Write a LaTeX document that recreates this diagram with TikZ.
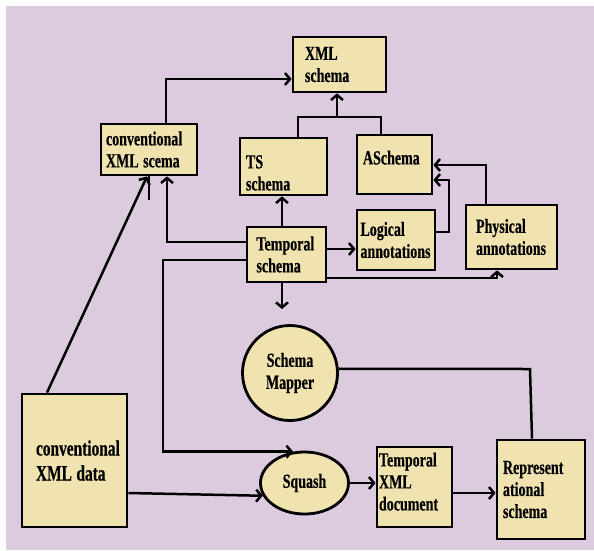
\documentclass[tikz,border=0pt]{standalone}
\usepackage{fontspec}
\setmainfont{Liberation Serif}[FakeStretch=0.70, BoldFeatures={FakeBold=0.4}]
\usetikzlibrary{arrows.meta,shapes.geometric}
\definecolor{bgc}{RGB}{220,202,222}
\definecolor{boxfill}{RGB}{240,227,176}
\newcommand\lbl{\fontsize{20}{22}\selectfont\bfseries\hyphenpenalty=10000\lefthyphenmin=64 }
\newcommand\lblbig{\fontsize{22}{25}\selectfont\bfseries\hyphenpenalty=10000\lefthyphenmin=64 }
\tikzset{
  bx/.style={draw, fill=boxfill, line width=2.8pt, align=left, inner ysep=0pt, font=\lbl,
    execute at begin node={\spaceskip=4.5pt plus 1pt minus 1pt\xspaceskip=4.5pt}},
  rnd/.style={draw, fill=boxfill, line width=2.8pt, align=center, inner sep=0pt, font=\lbl},
  ln/.style={line width=2.5pt, >={Straight Barb[length=5pt,width=12pt]}},
}
\begin{document}
\begin{tikzpicture}[x=1pt,y=-1pt]
\useasboundingbox (0,0) rectangle (594,550);
\fill[white] (0,0) rectangle (594,550);
\fill[bgc] (6,6) rectangle (594,550);

% boxes
\node[bx, text width=69pt, inner xsep=12pt, minimum height=55pt] (xml) at (339.5,64.5) {XML\\schema};
\node[bx, text width=86pt, inner xsep=5pt, minimum height=51pt] (cxs) at (149,149.5) {conventional\\XML scema};
\node[bx, text width=75pt, inner xsep=6pt, minimum height=57pt] (tsch) at (283.5,166.5) {\rule{0pt}{26pt}TS\\schema};
\node[bx, text width=63pt, inner xsep=6pt, minimum height=59pt] (as) at (394.5,164.5) {ASchema\rule[-14pt]{0pt}{14pt}};
\node[bx, text width=71pt, inner xsep=3.5pt, minimum height=60pt] (lga) at (396,240) {Logical\\annotations};
\node[bx, text width=71pt, inner xsep=10pt, minimum height=64pt] (phys) at (511.5,237) {Physical\\annotations};
\node[bx, text width=60pt, inner xsep=9.5pt, minimum height=55pt] (ts) at (286.5,254.5) {Temporal\\schema};
\node[bx, font=\lblbig, text width=77pt, inner xsep=14pt, minimum height=133pt] (cxd) at (74.5,460.5) {\mbox{conventional}\\XML data};
\node[bx, text width=71pt, inner xsep=2pt, minimum height=80pt] (tdoc) at (414.5,487) {Temporal\\XML\\document\rule[-11pt]{0pt}{11pt}};
\node[bx, text width=76pt, inner xsep=6pt, minimum height=99pt] (rep) at (541,489.5) {Represent\\ational\\schema};
\node[rnd, circle, minimum size=95pt] (sm) at (290,373) {Schema\\Mapper};
\node[rnd, ellipse, minimum width=88pt, minimum height=62pt] (squash) at (304.5,483) {Squash};

\coordinate (tsend) at (282,309);

% connectors
\draw[ln,->] (cxs.north -| 166,0) |- (xml.west |- 0,79);
\draw[ln] (tsch.north -| 298,0) -- (298,117) -- (381,117) -- (as.north -| 381,0);
\draw[ln,->] (337,117) -- (xml.south -| 337,0);
\draw[ln,->] (ts.north -| 282,0) -- (tsch.south -| 282,0);
\draw[ln,->] (ts.west |- 0,242) -| (cxs.south -| 167,0);
\draw[ln,->] (ts.west |- 0,260) -- (163,260) |- (squash.110);
\draw[ln,->] (ts.east |- 0,249) -- (lga.west |- 0,249);
\draw[ln,->] (ts.east |- 0,278) -| (phys.south -| 497,0);
\draw[ln,->] (ts.south -| 282,0) -- (tsend);
\draw[ln,->] (lga.east |- 0,232) -- (449,232) |- (as.east |- 0,180);
\draw[ln,->] (phys.north -| 486,0) |- (as.east |- 0,165);
\draw[ln,->] (cxd.north -| 47,0) -- (cxs.south -| 147,0);
\draw[ln] (cxs.south -| 149,0) -- (149,200);
\draw[ln,->] (cxd.east |- 0,493) -- (squash.197);
\draw[ln,->] (squash.east) -- (tdoc.west |- squash.east);
\draw[ln,->] (tdoc.east |- 0,493) -- (rep.west |- 0,493);
\draw[ln] (sm.5) -- (530,369) -- (rep.north -| 532,0);
\end{tikzpicture}
\end{document}
